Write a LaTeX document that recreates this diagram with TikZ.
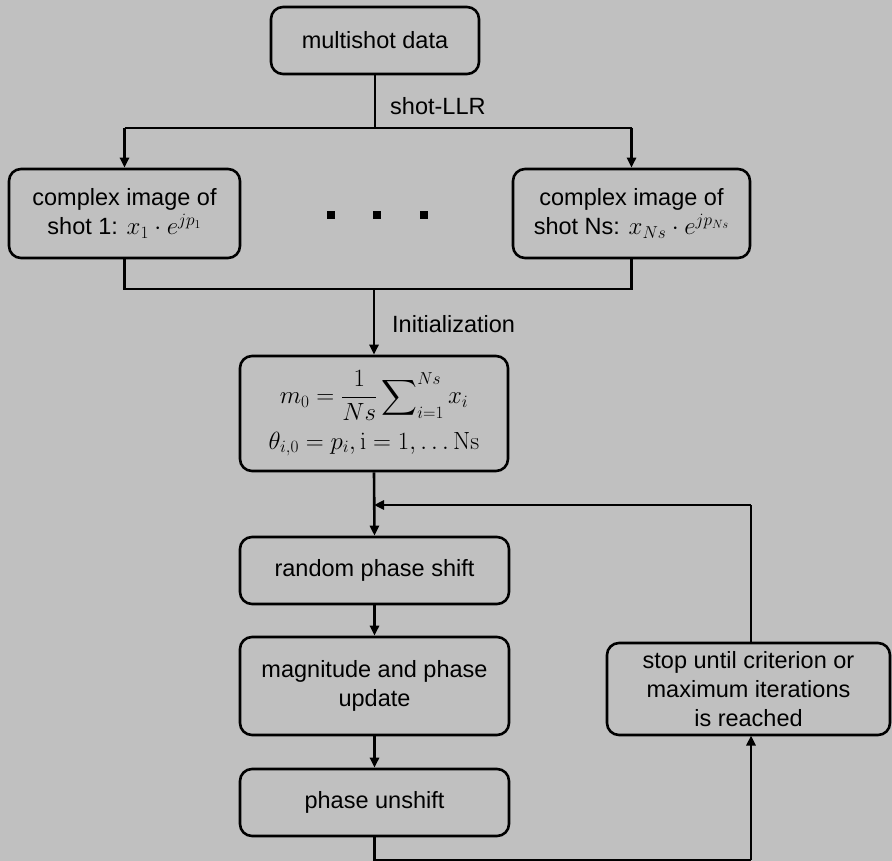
\documentclass[tikz,border=0pt]{standalone}
\usepackage{exscale}
\usepackage[no-math]{fontspec}
\setmainfont{Liberation Sans}
\usetikzlibrary{arrows.meta}
\definecolor{bg}{RGB}{192,192,192}
\begin{document}
\begin{tikzpicture}[x=1pt,y=-1pt,
  every node/.style={font=\fontsize{23.5}{29}\selectfont, text=black},
  box/.style={draw, line width=2.6pt, rounded corners=12pt, fill=bg, align=center, inner sep=0pt},
  conn/.style={line width=2.6pt},
  arr/.style={conn, -{Triangle[length=10pt,width=9pt]}},
  lbl/.style={anchor=west, inner sep=0pt},
  dot/.style={fill=black, minimum size=8pt, inner sep=0pt}]
\fill[bg] (0,0) rectangle (892,861);
\useasboundingbox (0,0) rectangle (892,861);

\node[box, minimum width=208pt, minimum height=67pt] (data) at (375,40.5) {multishot data};
\node[box, minimum width=231pt, minimum height=89pt] (c1) at (124.5,213.5) {complex image of\\shot 1: $x_1\cdot e^{jp_1}$};
\node[box, minimum width=237pt, minimum height=89pt] (cN) at (631.5,213.5) {complex image of\\shot Ns: $x_{Ns}\cdot e^{jp_{Ns}}$};
\node[dot] (d1) at (331,215) {};
\node[dot] (d2) at (377,215) {};
\node[dot] (d3) at (424,215) {};
\node[box, minimum width=268pt, minimum height=115pt] (init) at (374,413.5) {$\displaystyle m_0=\frac{1}{Ns}\sum\nolimits_{i=1}^{Ns}x_i$\\[10pt]$\theta_{i,0}=p_i,\mathrm{i}=1,\ldots\mathrm{Ns}$};
\node[box, minimum width=269pt, minimum height=67pt] (rand) at (374.5,570.5) {random phase shift};
\node[box, minimum width=269pt, minimum height=98pt] (mag) at (374.5,686) {magnitude and phase\\update};
\node[box, minimum width=269pt, minimum height=67pt] (unsh) at (374.5,802.5) {phase unshift};
\node[box, minimum width=283pt, minimum height=92pt] (stop) at (748.5,689) {stop until criterion or\\maximum iterations\\is reached};

\node[lbl] (l1) at (390,106) {shot-LLR};
\node[lbl] (l2) at (392,324) {Initialization};

\coordinate (sL) at (124.5,128);
\coordinate (sR) at (631.5,128);
\coordinate (sM) at (375,128);
\coordinate (mL) at (124.5,289);
\coordinate (mR) at (631.5,289);
\coordinate (mM) at (374,289);
\coordinate (fb) at (751,505);
\coordinate (jn) at (374,505);
\coordinate (bL) at (374.5,860);
\coordinate (bR) at (751,860);
\coordinate (sb) at (751,735.5);
\coordinate (st) at (751,643);

\draw[conn] (data.south) -- (sM);
\draw[conn] (sL) -- (sR);
\draw[arr] (sL) -- (c1.north);
\draw[arr] (sR) -- (cN.north);
\draw[conn] (c1.south) -- (mL) -- (mR) -- (cN.south);
\draw[arr] (mM) -- (init.north);
\draw[arr] (init.south) -- (rand.north);
\draw[arr] (rand.south) -- (mag.north);
\draw[arr] (mag.south) -- (unsh.north);
\draw[conn] (unsh.south) -- (bL) -- (bR);
\draw[arr] (bR) -- (sb);
\draw[conn] (st) -- (fb);
\draw[arr] (fb) -- (jn);
\end{tikzpicture}
\end{document}
